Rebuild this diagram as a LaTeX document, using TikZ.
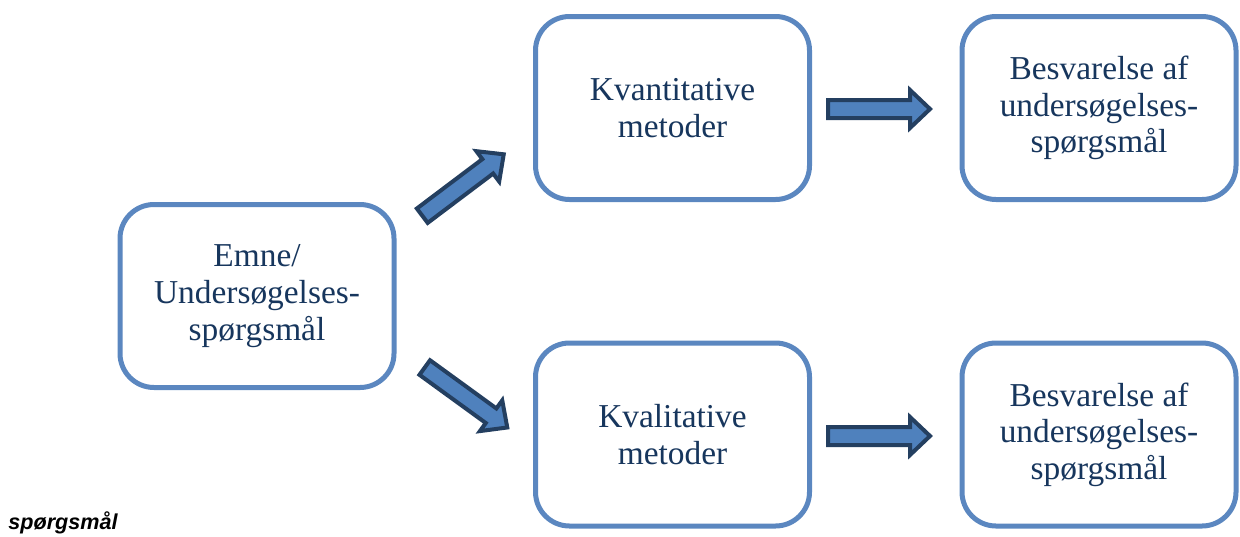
\documentclass[tikz,border=0pt]{standalone}
\usepackage{fontspec}
\setmainfont{Liberation Serif}
\newfontfamily\notefont{Liberation Sans}
\definecolor{boxline}{HTML}{5B87C0}
\definecolor{arrowfill}{HTML}{4F81BD}
\definecolor{arrowline}{HTML}{243F60}
\definecolor{textblue}{HTML}{17365D}

\begin{document}
\begin{tikzpicture}[x=0.5pt, y=-0.5pt,
			methodbox/.style={draw=boxline, fill=white, line width=2.5pt, rounded corners=17pt,
				minimum width=137pt, minimum height=91.5pt, align=center, text=textblue,
				font=\fontsize{16.7}{18.3}\selectfont},
			blockarrow/.style={draw=arrowline, fill=arrowfill, line width=2pt}]
	\useasboundingbox (0,0) rectangle (1240,536);
	\node[methodbox] (emne) at (257,296) {Emne/\\Undersøgelses-\\spørgsmål};
	\node[methodbox] (kvant) at (672.5,108) {Kvantitative\\metoder};
	\node[methodbox] (kval) at (672.5,434.5) {Kvalitative\\metoder};
	\node[methodbox] (svarA) at (1099,108) {Besvarelse af\\undersøgelses-\\spørgsmål};
	\node[methodbox] (svarB) at (1099,434.5) {Besvarelse af\\undersøgelses-\\spørgsmål};
	\draw[blockarrow, shift={(463,185)}, rotate=37]
		(-51,-9) -- (31,-9) -- (31,-19) -- (51,0) -- (31,19) -- (31,9) -- (-51,9) -- cycle;
	\draw[blockarrow, shift={(466,397.5)}, rotate=-36]
		(-51,-9) -- (31,-9) -- (31,-19) -- (51,0) -- (31,19) -- (31,9) -- (-51,9) -- cycle;
	\draw[blockarrow, shift={(879,109)}]
		(-51,-9) -- (31,-9) -- (31,-19) -- (51,0) -- (31,19) -- (31,9) -- (-51,9) -- cycle;
	\draw[blockarrow, shift={(879,436)}]
		(-51,-9) -- (31,-9) -- (31,-19) -- (51,0) -- (31,19) -- (31,9) -- (-51,9) -- cycle;
	\node[anchor=base west, inner sep=0pt, font=\notefont\bfseries\itshape\fontsize{10.8}{12}\selectfont]
		(note) at (8,529) {spørgsmål};
\end{tikzpicture}
\end{document}
